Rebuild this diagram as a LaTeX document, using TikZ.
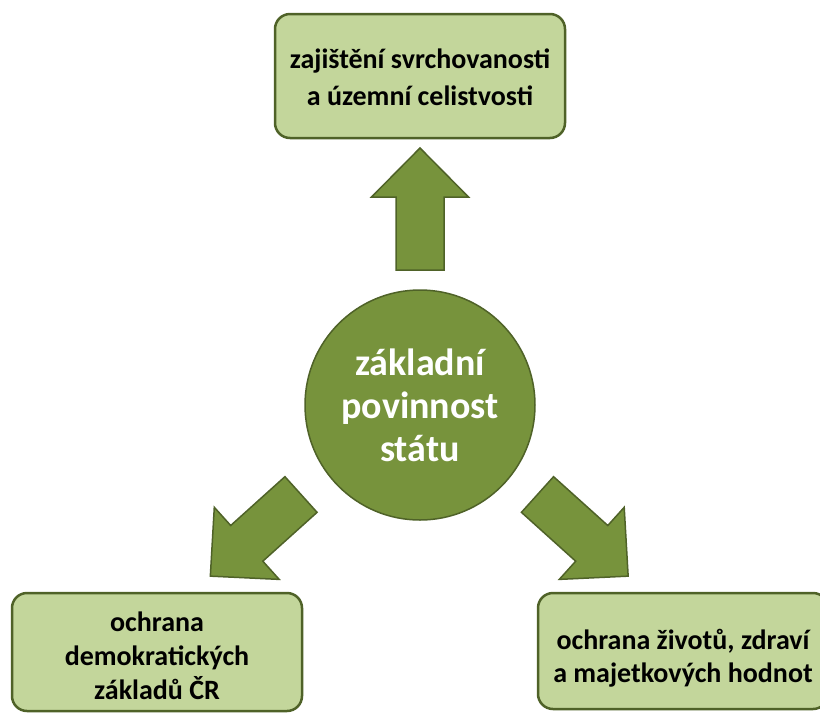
\documentclass[tikz,border=0pt]{standalone}
\usepackage{fontspec}
\setmainfont{Carlito}
\usetikzlibrary{positioning}

\definecolor{leafgreen}{HTML}{77933C}
\definecolor{darkleaf}{HTML}{4F6228}
\definecolor{palegreen}{HTML}{C3D69B}

\begin{document}
\begin{tikzpicture}[
                x=1pt, y=-1pt,
                thick,
                dutybox/.style={
                        draw=darkleaf,
                        line width=2.5pt,
                        fill=palegreen,
                        rounded corners=15pt,
                        minimum width=290pt,
                        minimum height=124pt,
                        inner ysep=2pt,
                        text depth=7pt,
                        align=center,
                        font=\bfseries\fontsize{28}{34}\selectfont
                    },
                core/.style={
                        circle,
                        draw=darkleaf,
                        line width=1.5pt,
                        fill=leafgreen,
                        minimum size=230pt,
                        text=white,
                        align=center,
                        font=\bfseries\fontsize{38}{43}\selectfont
                    },
                fatarrow/.pic={
                        \draw[fill=leafgreen, draw=darkleaf, line width=1.5pt, miter limit=4]
                            (0,-24) -- (73,-24) -- (73,-48.5) -- (122,0)
                            -- (73,48.5) -- (73,24) -- (0,24) -- cycle;
                    }
            ]

            \useasboundingbox (0,0) rectangle (820,713);
            \clip (0,0) rectangle (820,713);

            % Centre and the three duties
            \node[core] (duty) at (420,405) {základní\\povinnost\\státu};
            \node[dutybox, text height=65pt, font=\bfseries\fontsize{28}{37}\selectfont] (sovereignty) at (420,76) {zajištění svrchovanosti\\a územní celistvosti};
            \node[dutybox, minimum height=118pt, text height=101pt] (democracy) at (157,652) {ochrana\\demokratických\\základů ČR};
            \node[dutybox, minimum height=116pt, text height=69pt, font=\bfseries\fontsize{28}{33}\selectfont] (lives) at (683,651) {ochrana životů, zdraví\\a majetkových hodnot};

            % Block arrows from the centre outwards
            \pic[rotate=90] at (420,270) {fatarrow};
            \pic[rotate=222] at (301,494.5) {fatarrow};
            \pic[rotate=-42] at (537.5,494.5) {fatarrow};

        \end{tikzpicture}
\end{document}
